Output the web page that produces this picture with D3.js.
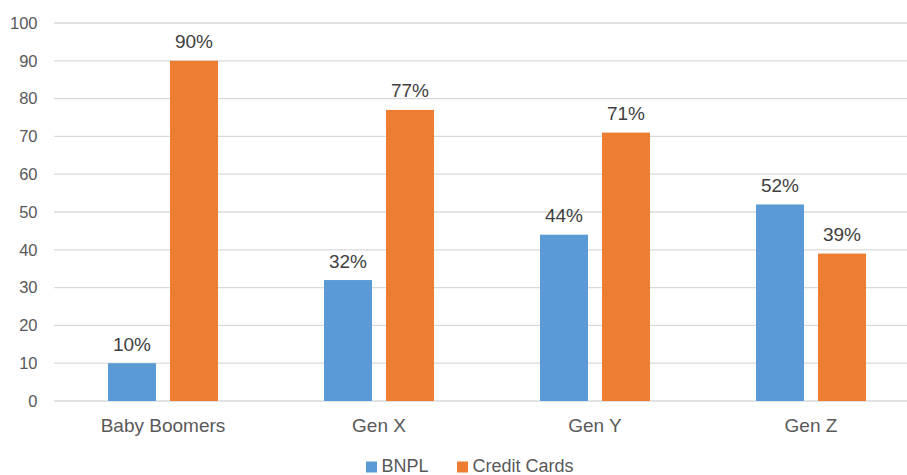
<!DOCTYPE html>
<meta charset="utf-8">
<head>
  <title>BNPL vs Credit Cards by generation</title>
</head>

<style>
body { margin: 0; background: #fff; }
svg { display: block; font-family: "Liberation Sans", Arial, sans-serif; }
.grid line { stroke: #d9d9d9; stroke-width: 1.3; }
.ytick { fill: #595959; font-size: 16.5px; }
.xlab { fill: #595959; font-size: 19px; }
.val { fill: #404040; font-size: 19px; }
.leg { fill: #595959; font-size: 18px; }
</style>

<body>
  <svg width="907" height="475"></svg>

  <script src="https://cdnjs.cloudflare.com/ajax/libs/d3/7.8.5/d3.min.js"></script>
  <script>

// data
    var generations = ["Baby Boomers", "Gen X", "Gen Y", "Gen Z"];
    var seriesNames = ["BNPL", "Credit Cards"];
    var bnpl = [10, 32, 44, 52];
    var creditCards = [90, 77, 71, 39];
    var yTicks = [0, 10, 20, 30, 40, 50, 60, 70, 80, 90, 100];
    var colors = ["#5b9bd5", "#ed7d31"];

    var svg = d3.select("svg");

    var y = d3.scaleLinear().domain([0, 100]).range([401, 23]);

    var x0 = d3.scaleBand()
        .domain(generations)
        .range([55, 919])
        .padding(0);

    // two bars per group, 48px wide with a small gap
    var x1 = d3.scaleBand()
        .domain(seriesNames)
        .range([53, 163])
        .paddingInner(0.226);

    // grid lines + tick labels
    var grid = svg.append("g").attr("class", "grid");
    grid.selectAll("line")
        .data(yTicks)
        .enter().append("line")
        .attr("x1", 54)
        .attr("x2", 907)
        .attr("y1", d => y(d))
        .attr("y2", d => y(d));

    svg.append("g").selectAll("text")
        .data(yTicks)
        .enter().append("text")
        .attr("class", "ytick")
        .attr("x", 37.5)
        .attr("y", d => y(d))
        .attr("dy", "0.35em")
        .attr("text-anchor", "end")
        .text(d => d);

    var rows = generations.map((g, i) => ({
        gen: g,
        vals: [
            {key: seriesNames[0], v: bnpl[i], c: colors[0]},
            {key: seriesNames[1], v: creditCards[i], c: colors[1]}
        ]
    }));

    var groups = svg.append("g").selectAll("g")
        .data(rows)
        .enter().append("g")
        .attr("transform", d => "translate(" + x0(d.gen) + ",0)");

    groups.selectAll("rect")
        .data(d => d.vals)
        .enter().append("rect")
        .attr("x", d => x1(d.key))
        .attr("width", x1.bandwidth())
        .attr("y", d => y(d.v))
        .attr("height", d => y(0) - y(d.v))
        .attr("fill", d => d.c);

    groups.selectAll("text.val")
        .data(d => d.vals)
        .enter().append("text")
        .attr("class", "val")
        .attr("x", d => x1(d.key) + x1.bandwidth() / 2)
        .attr("y", d => y(d.v) - 12.5)
        .attr("text-anchor", "middle")
        .text(d => d.v + "%");

    groups.append("text")
        .attr("class", "xlab")
        .attr("x", x0.bandwidth() / 2)
        .attr("y", 432)
        .attr("text-anchor", "middle")
        .text(d => d.gen);

    // legend (sits right at the bottom edge, as in the original)
    var legX = [366, 457];
    var leg = svg.append("g").selectAll("g")
        .data(seriesNames)
        .enter().append("g")
        .attr("transform", (d, i) => "translate(" + legX[i] + ",0)");
    leg.append("rect")
        .attr("x", 0).attr("y", 461.5)
        .attr("width", 11).attr("height", 11)
        .attr("fill", (d, i) => colors[i]);
    leg.append("text")
        .attr("class", "leg")
        .attr("x", 15.5)
        .attr("y", 472)
        .text(d => d);

  </script>
</body>
</html>
